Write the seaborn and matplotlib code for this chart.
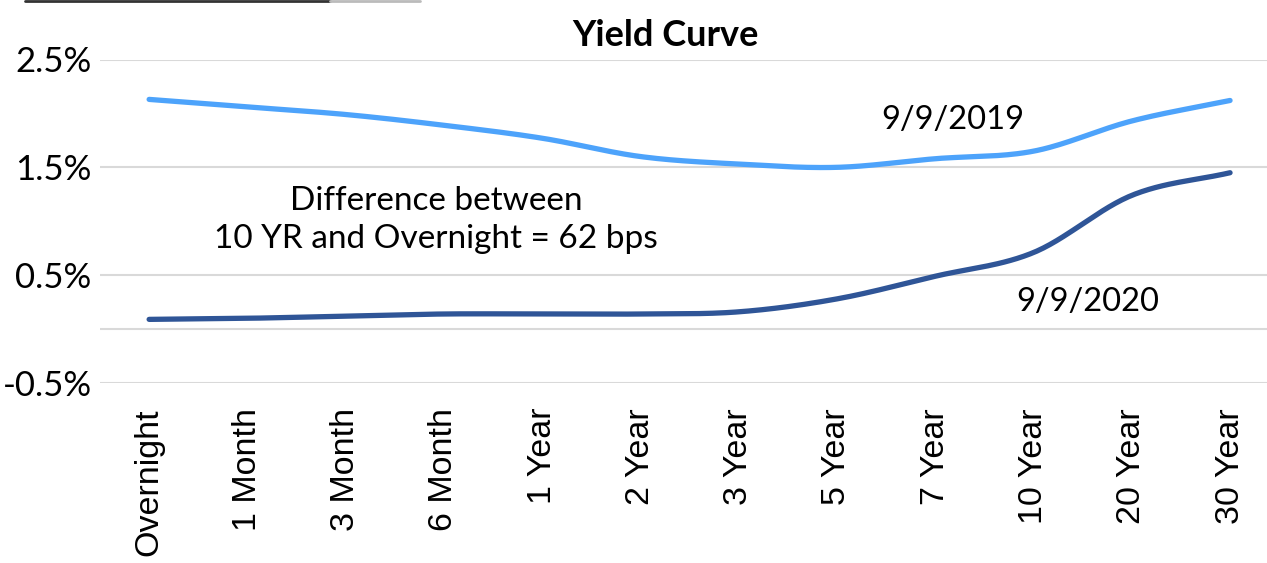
import numpy as np
import pandas as pd
import matplotlib
matplotlib.use("Agg")
import matplotlib.pyplot as plt
import seaborn as sns
from matplotlib.lines import Line2D

# ---- data ----
maturities = ["Overnight", "1 Month", "3 Month", "6 Month", "1 Year", "2 Year",
              "3 Year", "5 Year", "7 Year", "10 Year", "20 Year", "30 Year"]
yield_2019 = [2.13, 2.06, 1.99, 1.89, 1.77, 1.60, 1.53, 1.50, 1.58, 1.65, 1.93, 2.12]
yield_2020 = [0.09, 0.10, 0.12, 0.14, 0.14, 0.14, 0.16, 0.28, 0.49, 0.71, 1.24, 1.45]
series_names = ["9/9/2019", "9/9/2020"]
ytick_values = [-0.5, 0.5, 1.5, 2.5]
ytick_labels = ["-0.5%", "0.5%", "1.5%", "2.5%"]
title = "Yield Curve"
note = "Difference between\n10 YR and Overnight = 62 bps"


def smooth(xs, ys, n=30):
    """Catmull-Rom smoothing (like Excel 'smoothed line')."""
    xs = np.asarray(xs, float)
    ys = np.asarray(ys, float)
    px = np.concatenate([[2 * xs[0] - xs[1]], xs, [2 * xs[-1] - xs[-2]]])
    py = np.concatenate([[2 * ys[0] - ys[1]], ys, [2 * ys[-1] - ys[-2]]])
    ox, oy = [], []
    for i in range(1, len(px) - 2):
        t = np.linspace(0, 1, n, endpoint=(i == len(px) - 3))
        for P, out in ((px, ox), (py, oy)):
            p0, p1, p2, p3 = P[i - 1], P[i], P[i + 1], P[i + 2]
            out.extend(0.5 * ((2 * p1) + (-p0 + p2) * t
                              + (2 * p0 - 5 * p1 + 4 * p2 - p3) * t ** 2
                              + (-p0 + 3 * p1 - 3 * p2 + p3) * t ** 3))
    return np.array(ox), np.array(oy)


idx = np.arange(len(maturities))
frames = []
for name, vals in zip(series_names, [yield_2019, yield_2020]):
    sx, sy = smooth(idx, vals)
    frames.append(pd.DataFrame({"x": sx, "y": sy, "series": name}))
df = pd.concat(frames, ignore_index=True)

sns.set_theme(style="white")
plt.rcParams["font.family"] = ["Lato", "DejaVu Sans"]
plt.rcParams["text.color"] = "black"
plt.rcParams["xtick.color"] = "black"
plt.rcParams["ytick.color"] = "black"

fig = plt.figure(figsize=(12.67, 5.63), dpi=100)
ax = fig.add_axes([100 / 1267, 1 - 383 / 563, 1 - 100 / 1267, (383 - 59.5) / 563])

for v in [2.5, 1.5, 0.5, 0.0, -0.5]:
    ax.axhline(v, color="#D9D9D9", lw=1.5, zorder=0)

sns.lineplot(data=df, x="x", y="y", hue="series", sort=False,
             palette={"9/9/2019": "#4DA3FB", "9/9/2020": "#2F5597"},
             linewidth=3.8, legend=False, ax=ax, estimator=None)
for ln in ax.lines:
    ln.set_solid_capstyle("round")

ax.set_xlim(-0.5, 11 + 37 / 98.4)
ax.set_ylim(-0.5, 2.5)
ax.set_xticks(idx)
ax.set_xticklabels(maturities, rotation=90, fontsize=24.5, color="black",
                   family=["Liberation Sans", "DejaVu Sans"])
ax.set_yticks(ytick_values)
ax.set_yticklabels(ytick_labels, fontsize=25, color="black")
ax.tick_params(axis="x", pad=18, length=0)
ax.tick_params(axis="y", pad=6, length=0)
ax.set_xlabel("")
ax.set_ylabel("")
for s in ax.spines.values():
    s.set_visible(False)
ax.grid(False)

fig.text(665 / 1267, 1 - 35 / 563, title, ha="center", va="center",
         fontsize=26, fontweight="bold", color="black")
ax.text(2.92, 1.01, note, ha="center", va="center", fontsize=24,
        linespacing=1.35, color="black")
ax.text(8.18, 1.94, series_names[0], ha="center", va="center", fontsize=23.5,
        color="black")
ax.text(9.55, 0.25, series_names[1], ha="center", va="center", fontsize=23.5,
        color="black")

fig.add_artist(Line2D([25 / 1267, 330 / 1267], [1 - 1 / 563, 1 - 1 / 563],
                      color="#333333", lw=2, transform=fig.transFigure))
fig.add_artist(Line2D([330 / 1267, 420 / 1267], [1 - 1 / 563, 1 - 1 / 563],
                      color="#BBBBBB", lw=2, transform=fig.transFigure))

fig.savefig("out.png", dpi=100)
